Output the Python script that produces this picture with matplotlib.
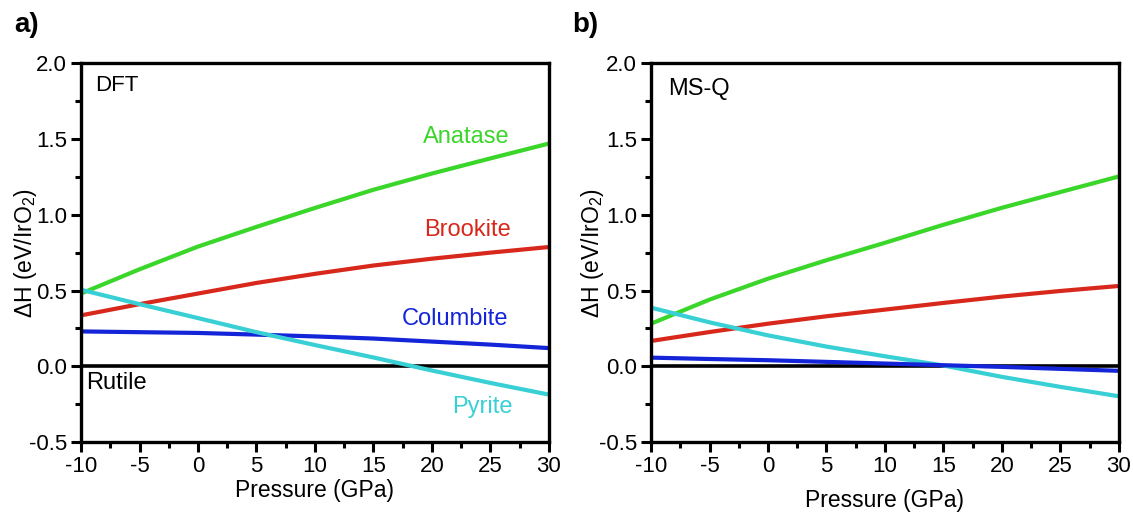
import matplotlib
matplotlib.use("Agg")
import matplotlib.pyplot as plt
from matplotlib.ticker import MultipleLocator

plt.rcParams['font.family'] = ['Liberation Sans', 'DejaVu Sans']
plt.rcParams['mathtext.fontset'] = 'custom'
plt.rcParams['mathtext.rm'] = 'Liberation Sans'
plt.rcParams['mathtext.it'] = 'Liberation Sans:italic'
plt.rcParams['axes.unicode_minus'] = False

# pressure grid (GPa)
pressure = [-10, -5, 0, 5, 10, 15, 20, 25, 30]

# panel a) DFT, enthalpy relative to rutile (eV/IrO2)
dft_anatase = [0.48, 0.64, 0.79, 0.92, 1.045, 1.165, 1.272, 1.372, 1.47]
dft_brookite = [0.336, 0.41, 0.48, 0.55, 0.61, 0.665, 0.71, 0.75, 0.787]
dft_columbite = [0.23, 0.225, 0.22, 0.209, 0.197, 0.183, 0.163, 0.143, 0.12]
dft_pyrite = [0.505, 0.41, 0.318, 0.225, 0.14, 0.058, -0.028, -0.11, -0.187]

# panel b) MS-Q
msq_anatase = [0.281, 0.44, 0.578, 0.70, 0.815, 0.934, 1.046, 1.15, 1.253]
msq_brookite = [0.167, 0.226, 0.281, 0.33, 0.374, 0.418, 0.46, 0.497, 0.53]
msq_columbite = [0.057, 0.048, 0.04, 0.029, 0.018, 0.007, -0.004, -0.017, -0.03]
msq_pyrite = [0.387, 0.29, 0.204, 0.13, 0.066, 0.005, -0.07, -0.136, -0.198]

green = '#3ad62a'
red = '#d8281c'
blue = '#1424d8'
cyan = '#38d0d4'

fig = plt.figure(figsize=(11.33, 5.14), dpi=100)
ax_a = fig.add_axes([0.0715, 0.140, 0.413, 0.737])
ax_b = fig.add_axes([0.5746, 0.140, 0.413, 0.737])


def style_axis(ax):
    ax.set_xlim(-10, 30)
    ax.set_ylim(-0.5, 2.0)
    ax.xaxis.set_major_locator(MultipleLocator(5))
    ax.xaxis.set_minor_locator(MultipleLocator(2.5))
    ax.yaxis.set_major_locator(MultipleLocator(0.5))
    ax.yaxis.set_minor_locator(MultipleLocator(0.25))
    ax.yaxis.set_major_formatter(plt.FormatStrFormatter('%.1f'))
    for s in ax.spines.values():
        s.set_linewidth(2.4)
    ax.tick_params(which='major', direction='out', length=7, width=2.2,
                   labelsize=16, top=False, right=False, pad=3)
    ax.tick_params(which='minor', direction='out', length=4, width=2.2,
                   top=False, right=False)
    ax.axhline(0, color='black', lw=2.6, zorder=1)


lw = 3.0
ax_a.plot(pressure, dft_anatase, color=green, lw=lw)
ax_a.plot(pressure, dft_brookite, color=red, lw=lw)
ax_a.plot(pressure, dft_columbite, color=blue, lw=lw)
ax_a.plot(pressure, dft_pyrite, color=cyan, lw=lw)
style_axis(ax_a)

ax_a.text(-8.8, 1.85, 'DFT', fontsize=16, va='center', ha='left')
ax_a.text(-9.6, -0.11, 'Rutile', fontsize=17, va='center', ha='left')
ax_a.text(22.9, 1.51, 'Anatase', fontsize=17, color=green, va='center', ha='center')
ax_a.text(23.0, 0.90, 'Brookite', fontsize=17, color=red, va='center', ha='center')
ax_a.text(22.0, 0.31, 'Columbite', fontsize=17, color=blue, va='center', ha='center')
ax_a.text(24.3, -0.27, 'Pyrite', fontsize=17, color=cyan, va='center', ha='center')

ax_a.set_xlabel('Pressure (GPa)', fontsize=16.5)
ax_a.xaxis.set_label_coords(0.5, -0.098)
ax_a.set_ylabel(r'$\Delta$H (eV/IrO$_2$)', fontsize=16.5)
ax_a.yaxis.set_label_coords(-0.09, 0.5)

ax_b.plot(pressure, msq_anatase, color=green, lw=lw)
ax_b.plot(pressure, msq_brookite, color=red, lw=lw)
ax_b.plot(pressure, msq_pyrite, color=cyan, lw=lw)
ax_b.plot(pressure, msq_columbite, color=blue, lw=lw)
style_axis(ax_b)

ax_b.text(-8.5, 1.83, 'MS-Q', fontsize=17, va='center', ha='left')
ax_b.set_xlabel('Pressure (GPa)', fontsize=16.5)
ax_b.xaxis.set_label_coords(0.5, -0.125)
ax_b.set_ylabel(r'$\Delta$H (eV/IrO$_2$)', fontsize=16.5)
ax_b.yaxis.set_label_coords(-0.096, 0.5)

fig.text(27 / 1133, 1 - 25 / 514, 'a)', fontsize=20, fontweight='bold', ha='center', va='center')
fig.text(585 / 1133, 1 - 25 / 514, 'b)', fontsize=20, fontweight='bold', ha='center', va='center')

fig.savefig('out.png', dpi=100)
